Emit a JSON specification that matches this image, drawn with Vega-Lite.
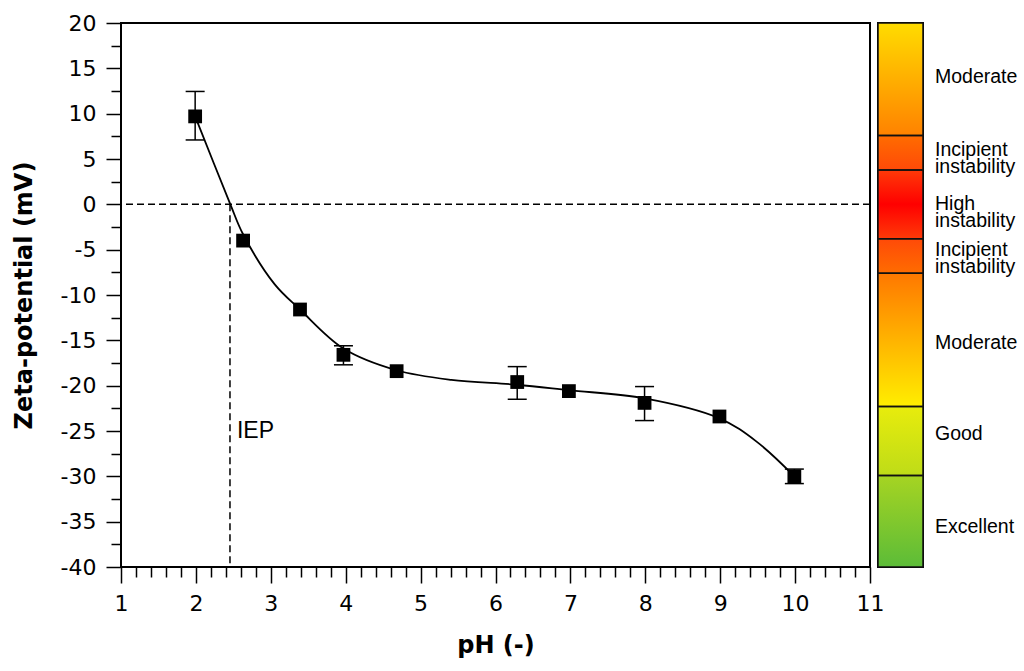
{
  "$schema": "https://vega.github.io/schema/vega-lite/v6.json",
  "background": "white",
  "padding": {"left": 11, "top": 11, "right": 5, "bottom": 5},
  "bounds": "flush",
  "spacing": 8,
  "datasets": {
    "points": [
      {"pH": 1.99, "zeta": 9.7, "lo": 7.1, "hi": 12.45},
      {"pH": 2.63, "zeta": -4.0},
      {"pH": 3.39, "zeta": -11.6},
      {"pH": 3.97, "zeta": -16.6, "lo": -17.7, "hi": -15.6},
      {"pH": 4.68, "zeta": -18.4},
      {"pH": 6.29, "zeta": -19.6, "lo": -21.5, "hi": -17.9},
      {"pH": 6.98, "zeta": -20.6},
      {"pH": 7.99, "zeta": -21.9, "lo": -23.85, "hi": -20.1},
      {"pH": 8.99, "zeta": -23.4},
      {"pH": 9.99, "zeta": -30.0, "lo": -30.8, "hi": -29.2}
    ],
    "curve": [
      {"pH": 1.99, "zeta": 9.7},
      {"pH": 2.46, "zeta": 0},
      {"pH": 2.63, "zeta": -3.3},
      {"pH": 3.05, "zeta": -8.8},
      {"pH": 3.39, "zeta": -11.6},
      {"pH": 3.97, "zeta": -15.9},
      {"pH": 4.68, "zeta": -18.3},
      {"pH": 5.41, "zeta": -19.36},
      {"pH": 6.29, "zeta": -19.9},
      {"pH": 6.98, "zeta": -20.5},
      {"pH": 7.99, "zeta": -21.4},
      {"pH": 8.99, "zeta": -23.6},
      {"pH": 9.49, "zeta": -26.2},
      {"pH": 9.99, "zeta": -30.0}
    ],
    "iep": [
      {"label": "IEP", "pH": 2.455, "zeta": 0}
    ],
    "bands": [
      {"category": "Moderate", "lo": 7.6, "hi": 20, "labelAt": 14.0},
      {"category": "Incipient\ninstability", "lo": 3.8, "hi": 7.6, "labelAt": 6.0},
      {"category": "High\ninstability", "lo": -3.8, "hi": 3.8, "labelAt": 0},
      {"category": "Incipient\ninstability", "lo": -7.6, "hi": -3.8, "labelAt": -5.0},
      {"category": "Moderate", "lo": -22.3, "hi": -7.6, "labelAt": -15.3},
      {"category": "Good", "lo": -29.9, "hi": -22.3, "labelAt": -25.3},
      {"category": "Excellent", "lo": -40, "hi": -29.9, "labelAt": -35.6}
    ]
  },
  "hconcat": [
    {
      "width": 749,
      "height": 544,
      "layer": [
        {
          "data": {"name": "iep"},
          "mark": {"type": "rule", "strokeDash": [7, 4], "strokeWidth": 1.5, "color": "#000"},
          "encoding": {
            "y": {"field": "zeta", "type": "quantitative", "scale": {"domain": [-40, 20], "nice": false, "zero": false}, "axis": null}
          }
        },
        {
          "data": {"name": "iep"},
          "mark": {"type": "rule", "strokeDash": [7, 4], "strokeWidth": 1.5, "color": "#000"},
          "encoding": {
            "x": {"field": "pH", "type": "quantitative", "scale": {"domain": [1, 11], "nice": false, "zero": false}, "axis": null},
            "y": {"field": "zeta", "type": "quantitative", "scale": {"domain": [-40, 20], "nice": false, "zero": false}, "axis": null},
            "y2": {"datum": -40}
          }
        },
        {
          "data": {"name": "iep"},
          "mark": {"type": "text", "align": "left", "baseline": "middle", "dx": 7, "dy": 227, "font": "Liberation Sans", "fontSize": 23, "color": "#000"},
          "encoding": {
            "x": {"field": "pH", "type": "quantitative", "scale": {"domain": [1, 11], "nice": false, "zero": false}, "axis": null},
            "y": {"field": "zeta", "type": "quantitative", "scale": {"domain": [-40, 20], "nice": false, "zero": false}, "axis": null},
            "text": {"field": "label"}
          }
        },
        {
          "data": {"name": "curve"},
          "mark": {"type": "line", "interpolate": "catmull-rom", "color": "#000", "strokeWidth": 1.8},
          "encoding": {
            "x": {
              "field": "pH", "type": "quantitative",
              "scale": {"domain": [1, 11], "nice": false, "zero": false},
              "axis": {
                "orient": "bottom", "values": [1, 2, 3, 4, 5, 6, 7, 8, 9, 10, 11],
                "tickSize": 16, "tickWidth": 1.5, "tickColor": "#000", "domain": false, "grid": false,
                "labelFont": "DejaVu Sans", "labelFontSize": 22, "labelColor": "#000", "labelPadding": 10,
                "labelFlush": false, "labelOverlap": false, "labelExpr": "'' + datum.value",
                "title": "pH (-)", "titleFont": "DejaVu Sans", "titleFontSize": 24, "titleFontWeight": "bold",
                "titleColor": "#000", "titlePadding": 19
              }
            },
            "y": {
              "field": "zeta", "type": "quantitative",
              "scale": {"domain": [-40, 20], "nice": false, "zero": false},
              "axis": {
                "orient": "left", "values": [-40, -35, -30, -25, -20, -15, -10, -5, 0, 5, 10, 15, 20],
                "tickSize": 15, "tickWidth": 1.5, "tickColor": "#000", "domain": false, "grid": false,
                "labelFont": "DejaVu Sans", "labelFontSize": 22, "labelColor": "#000", "labelPadding": 10,
                "labelFlush": false, "labelOverlap": false, "labelExpr": "'' + datum.value",
                "title": "Zeta-potential (mV)", "titleFont": "DejaVu Sans", "titleFontSize": 24, "titleFontWeight": "bold",
                "titleColor": "#000", "titlePadding": 24
              }
            }
          }
        },
        {
          "data": {"name": "points"},
          "transform": [{"filter": "isValid(datum.lo)"}],
          "mark": {"type": "rule", "color": "#000", "strokeWidth": 1.5},
          "encoding": {
            "x": {"field": "pH", "type": "quantitative", "scale": {"domain": [1, 11], "nice": false, "zero": false}, "axis": null},
            "y": {"field": "lo", "type": "quantitative", "scale": {"domain": [-40, 20], "nice": false, "zero": false}, "axis": null},
            "y2": {"field": "hi"}
          }
        },
        {
          "data": {"name": "points"},
          "transform": [{"filter": "isValid(datum.lo)"}],
          "mark": {"type": "tick", "orient": "horizontal", "size": 19, "thickness": 1.5, "color": "#000", "opacity": 1},
          "encoding": {
            "x": {"field": "pH", "type": "quantitative", "scale": {"domain": [1, 11], "nice": false, "zero": false}, "axis": null},
            "y": {"field": "lo", "type": "quantitative", "scale": {"domain": [-40, 20], "nice": false, "zero": false}, "axis": null}
          }
        },
        {
          "data": {"name": "points"},
          "transform": [{"filter": "isValid(datum.hi)"}],
          "mark": {"type": "tick", "orient": "horizontal", "size": 19, "thickness": 1.5, "color": "#000", "opacity": 1},
          "encoding": {
            "x": {"field": "pH", "type": "quantitative", "scale": {"domain": [1, 11], "nice": false, "zero": false}, "axis": null},
            "y": {"field": "hi", "type": "quantitative", "scale": {"domain": [-40, 20], "nice": false, "zero": false}, "axis": null}
          }
        },
        {
          "data": {"name": "points"},
          "mark": {"type": "square", "size": 190, "color": "#000", "opacity": 1, "filled": true},
          "encoding": {
            "x": {
              "field": "pH", "type": "quantitative",
              "scale": {"domain": [1, 11], "nice": false, "zero": false},
              "axis": {
                "orient": "bottom",
                "values": [1.2, 1.4, 1.6, 1.8, 2.2, 2.4, 2.6, 2.8, 3.2, 3.4, 3.6, 3.8, 4.2, 4.4, 4.6, 4.8, 5.2, 5.4, 5.6, 5.8, 6.2, 6.4, 6.6, 6.8, 7.2, 7.4, 7.6, 7.8, 8.2, 8.4, 8.6, 8.8, 9.2, 9.4, 9.6, 9.8, 10.2, 10.4, 10.6, 10.8],
                "tickSize": 10, "tickWidth": 1.5, "tickColor": "#000", "domain": false, "grid": false,
                "labels": false, "title": null
              }
            },
            "y": {
              "field": "zeta", "type": "quantitative",
              "scale": {"domain": [-40, 20], "nice": false, "zero": false},
              "axis": {
                "orient": "left",
                "values": [-37.5, -32.5, -27.5, -22.5, -17.5, -12.5, -7.5, -2.5, 2.5, 7.5, 12.5, 17.5],
                "tickSize": 10, "tickWidth": 1.5, "tickColor": "#000", "domain": false, "grid": false,
                "labels": false, "title": null
              }
            }
          }
        }
      ],
      "resolve": {"axis": {"x": "independent", "y": "independent"}}
    },
    {
      "width": 45,
      "height": 544,
      "layer": [
        {
          "data": {"name": "bands"},
          "transform": [{"aggregate": [{"op": "min", "field": "lo", "as": "lo"}, {"op": "max", "field": "hi", "as": "hi"}]}],
          "mark": {
            "type": "rect",
            "color": {
              "gradient": "linear", "x1": 0, "y1": 0, "x2": 0, "y2": 1,
              "stops": [
                {"offset": 0, "color": "#FFDC00"},
                {"offset": 0.2067, "color": "#FF8200"},
                {"offset": 0.2068, "color": "#FF6C00"},
                {"offset": 0.27, "color": "#FF4A08"},
                {"offset": 0.2701, "color": "#FF3A08"},
                {"offset": 0.3333, "color": "#FF0000"},
                {"offset": 0.3966, "color": "#FF3A08"},
                {"offset": 0.3967, "color": "#FF4A08"},
                {"offset": 0.46, "color": "#FF6C00"},
                {"offset": 0.4601, "color": "#FF7800"},
                {"offset": 0.705, "color": "#FFEE00"},
                {"offset": 0.7051, "color": "#E8EC0C"},
                {"offset": 0.8316, "color": "#BEDC18"},
                {"offset": 0.8317, "color": "#A6D422"},
                {"offset": 1, "color": "#5CBC38"}
              ]
            }
          },
          "encoding": {
            "y": {"field": "lo", "type": "quantitative", "scale": {"domain": [-40, 20], "nice": false, "zero": false}, "axis": null},
            "y2": {"field": "hi"}
          }
        },
        {
          "data": {"name": "bands"},
          "mark": {"type": "rect", "fillOpacity": 0, "stroke": "#111", "strokeWidth": 1.5},
          "encoding": {
            "y": {"field": "lo", "type": "quantitative", "scale": {"domain": [-40, 20], "nice": false, "zero": false}, "axis": null},
            "y2": {"field": "hi"}
          }
        },
        {
          "data": {"name": "bands"},
          "mark": {"type": "text", "align": "left", "baseline": "middle", "dx": 34.5, "font": "Liberation Sans", "fontSize": 19.5, "lineHeight": 17, "lineBreak": "\n", "color": "#000"},
          "encoding": {
            "y": {"field": "labelAt", "type": "quantitative", "scale": {"domain": [-40, 20], "nice": false, "zero": false}, "axis": null},
            "text": {"field": "category"}
          }
        }
      ]
    }
  ],
  "config": {
    "view": {"stroke": "#000", "strokeWidth": 2},
    "axis": {"ticks": true}
  }
}
